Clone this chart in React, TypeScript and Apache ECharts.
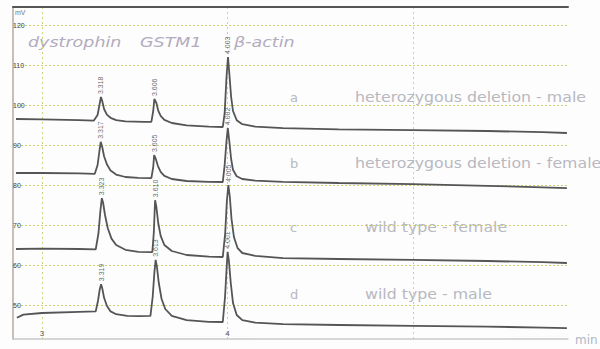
import React, { useEffect, useRef } from "react";
import * as echarts from "echarts";

// retention time (min), signal (mV)
const traceA: [number, number][] = [
  [2.86, 96.5], [3.0, 96.4], [3.2, 96.2], [3.28, 96.1], [3.3, 97.5], [3.31, 100], [3.318, 102], [3.325, 101], [3.335, 99], [3.35, 97.6], [3.37, 96.8], [3.4, 96.2], [3.45, 95.9], [3.55, 95.8], [3.59, 95.8], [3.6, 98.5], [3.606, 101.5], [3.617, 100.5], [3.627, 98.6], [3.64, 97.3], [3.66, 96.3], [3.7, 95.5], [3.78, 94.9], [3.9, 94.6], [3.975, 94.5], [3.985, 98], [3.995, 107], [4.003, 112], [4.01, 108], [4.02, 102], [4.03, 98.5], [4.05, 96.2], [4.08, 95.2], [4.15, 94.6], [4.3, 94.2], [4.6, 93.9], [5.0, 93.7], [5.4, 93.5], [5.7, 93.2], [5.83, 93.0],
];
const traceB: [number, number][] = [
  [2.86, 83.0], [3.0, 83.0], [3.2, 82.9], [3.285, 82.8], [3.3, 85], [3.31, 88.5], [3.317, 90.8], [3.325, 89.5], [3.335, 87.2], [3.35, 85.2], [3.37, 83.6], [3.4, 82.6], [3.45, 82.0], [3.52, 81.8], [3.59, 81.7], [3.6, 84.5], [3.605, 87.5], [3.613, 86.6], [3.625, 84.8], [3.64, 83.3], [3.66, 82.3], [3.7, 81.5], [3.78, 81.0], [3.9, 80.8], [3.975, 80.75], [3.985, 85], [3.995, 91], [4.002, 94.2], [4.01, 91], [4.02, 86.5], [4.03, 83.8], [4.05, 82.2], [4.08, 81.5], [4.15, 81.1], [4.3, 80.8], [4.6, 80.5], [5.0, 80.2], [5.4, 79.8], [5.7, 79.4], [5.83, 79.2],
];
const traceC: [number, number][] = [
  [2.86, 64.0], [3.0, 64.1], [3.2, 64.0], [3.29, 63.9], [3.305, 68], [3.315, 73.5], [3.323, 76.7], [3.33, 75.5], [3.34, 72.5], [3.355, 69.2], [3.375, 66.6], [3.4, 65.0], [3.45, 63.8], [3.52, 63.3], [3.595, 63.2], [3.603, 68], [3.61, 76.2], [3.617, 74.5], [3.627, 70.5], [3.64, 67.3], [3.66, 65.0], [3.7, 63.5], [3.78, 62.5], [3.9, 62.1], [3.975, 62.0], [3.988, 68], [3.997, 76], [4.005, 80], [4.013, 77], [4.022, 71.5], [4.035, 67], [4.055, 64.2], [4.08, 63.0], [4.15, 62.3], [4.3, 61.7], [4.6, 61.5], [5.0, 61.3], [5.4, 61.0], [5.7, 60.7], [5.83, 60.5],
];
const traceD: [number, number][] = [
  [2.865, 46.8], [2.9, 47.6], [3.0, 48.0], [3.2, 48.3], [3.29, 48.4], [3.302, 51], [3.312, 54], [3.319, 55.2], [3.326, 54], [3.335, 51.8], [3.35, 49.8], [3.37, 48.4], [3.4, 47.7], [3.46, 47.3], [3.52, 47.2], [3.585, 47.3], [3.597, 52], [3.606, 58], [3.613, 61.3], [3.62, 59.5], [3.63, 55.5], [3.645, 51.5], [3.665, 49.0], [3.7, 47.3], [3.78, 46.2], [3.9, 45.8], [3.975, 45.75], [3.987, 52], [3.996, 59.5], [4.001, 63.3], [4.008, 61], [4.018, 55.5], [4.03, 50.5], [4.05, 47.5], [4.08, 46.2], [4.15, 45.6], [4.3, 45.2], [4.6, 45.0], [5.0, 44.8], [5.4, 44.6], [5.7, 44.35], [5.83, 44.2],
];

// peak apexes: [time, signal, retention-time label]
const peaksA: [number, number, string][] = [[3.318, 102, "3.318"], [3.606, 101.5, "3.606"], [4.003, 112, "4.003"]];
const peaksB: [number, number, string][] = [[3.317, 90.8, "3.317"], [3.605, 87.5, "3.605"], [4.002, 94.2, "4.002"]];
const peaksC: [number, number, string][] = [[3.323, 76.7, "3.323"], [3.61, 76.2, "3.610"], [4.005, 80, "4.005"]];
const peaksD: [number, number, string][] = [[3.319, 55.2, "3.319"], [3.613, 61.3, "3.613"], [4.001, 63.3, "4.001"]];

const xLabels = ["3", "4"];
const sampleLetters = ["a", "b", "c", "d"];
const sampleNames = [
  "heterozygous deletion - male",
  "heterozygous deletion - female",
  "wild type - female",
  "wild type - male",
];
const geneNames = ["dystrophin", "GSTM1", "β-actin"];

export default function App() {
  const ref = useRef<HTMLDivElement>(null);
  useEffect(() => {
    if (!ref.current) return;
    const chart = echarts.init(ref.current, null, { renderer: "svg" });
    const traces = [traceA, traceB, traceC, traceD];
    const peaks = [peaksA, peaksB, peaksC, peaksD];
    const lineSeries = traces.map((t) => ({
      type: "line",
      data: t,
      showSymbol: false,
      symbol: "none",
      lineStyle: { color: "#555", width: 1.8 },
      z: 3,
    }));
    const peakSeries = peaks.map((p) => ({
      type: "scatter",
      data: p.map((d) => ({ value: [d[0], d[1]], name: d[2] })),
      symbolSize: 0,
      label: {
        show: true,
        position: "top",
        rotate: 90,
        distance: 3,
        formatter: (pr: any) => pr.name,
        fontSize: 7,
        color: "#444",
        fontFamily: "Liberation Sans",
        align: "left",
        verticalAlign: "middle",
      },
      z: 4,
    }));
    const fontFam = "DejaVu Sans";
    const rowY = [97, 163, 227, 294];
    const graphics: any[] = [];
    const geneX = [28, 140, 234];
    geneNames.forEach((g, i) =>
      graphics.push({
        type: "text",
        x: geneX[i],
        y: 42,
        scaleX: 1.25,
        style: { text: g, fill: "#b3abbd", font: `oblique 14px ${fontFam}`, verticalAlign: "middle" },
      })
    );
    sampleLetters.forEach((l, i) =>
      graphics.push({
        type: "text",
        x: 290,
        y: rowY[i],
        style: { text: l, fill: "#b8b8c0", font: `13px ${fontFam}`, verticalAlign: "middle" },
      })
    );
    const nameX = [355, 355, 365, 365];
    sampleNames.forEach((n, i) =>
      graphics.push({
        type: "text",
        x: nameX[i],
        y: rowY[i],
        scaleX: 1.17,
        style: { text: n, fill: "#b8b8c0", font: `13.5px ${fontFam}`, verticalAlign: "middle" },
      })
    );
    graphics.push({
      type: "text",
      x: 575,
      y: 340,
      style: { text: "min", fill: "#b0b8c8", font: `12px ${fontFam}`, verticalAlign: "middle" },
    });
    graphics.push({
      type: "text",
      x: 15,
      y: 12,
      style: { text: "mV", fill: "#777", font: `7px Liberation Sans`, verticalAlign: "middle" },
    });

    chart.setOption({
      animation: false,
      backgroundColor: "#fdfdfd",
      grid: { left: 13, right: 32, top: 7, bottom: 10 },
      xAxis: [
        {
          type: "value",
          min: 2.844,
          max: 5.836,
          minInterval: 1,
          maxInterval: 1,
          axisLine: { show: true, lineStyle: { color: "#c8c8cc", width: 1.5 } },
          axisTick: { show: false },
          axisLabel: {
            inside: true,
            margin: 2,
            fontSize: 8,
            color: "#555",
            fontFamily: "Liberation Sans",
            showMinLabel: false,
            showMaxLabel: false,
            formatter: (v: number) => (xLabels.includes(String(v)) ? String(v) : ""),
          },
          splitLine: {
            show: true,
            showMinLine: false,
            showMaxLine: false,
            lineStyle: { color: "#d2d67a", type: [2, 3], width: 1 },
          },
        },
        {
          type: "value",
          position: "top",
          min: 2.844,
          max: 5.836,
          axisLine: { show: true, lineStyle: { color: "#555", width: 2 } },
          axisTick: { show: false },
          axisLabel: { show: false },
          splitLine: { show: false },
        },
      ],
      yAxis: {
        type: "value",
        min: 41.5,
        max: 124.5,
        minInterval: 10,
        maxInterval: 10,
        axisLine: { show: true, lineStyle: { color: "#b8a8a0", width: 1.5 } },
        axisTick: { show: false },
        axisLabel: {
          inside: true,
          margin: 0,
          fontSize: 7,
          color: "#444",
          fontFamily: "Liberation Sans",
          showMinLabel: false,
          showMaxLabel: false,
        },
        splitLine: {
          show: true,
          showMinLine: false,
          showMaxLine: false,
          lineStyle: { color: "#ccd070", type: [2, 2], width: 1 },
        },
      },
      series: [...lineSeries, ...peakSeries],
      graphic: graphics,
    });
    return () => chart.dispose();
  }, []);
  return <div ref={ref} style={{ width: 600, height: 349, position: "absolute", left: 0, top: 0 }} />;
}
